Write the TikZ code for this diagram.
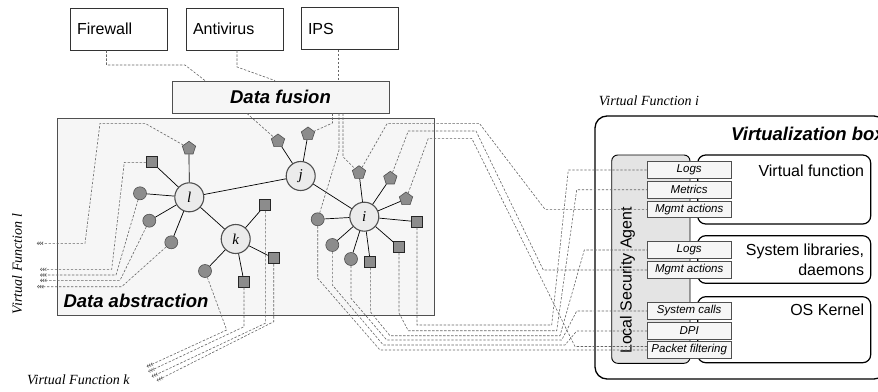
\documentclass[tikz,border=0pt]{standalone}
\usepackage{fontspec}
\setmainfont{Liberation Serif}
\setsansfont{Liberation Sans}
\usepackage{xcolor}
\usetikzlibrary{shapes.geometric,arrows.meta}
\definecolor{leafcolor}{HTML}{8C8C8C}
\definecolor{hubcolor}{HTML}{EBEBEB}
\definecolor{edgecolor}{HTML}{505050}
\definecolor{linkcolor}{HTML}{666666}
\definecolor{panelcolor}{HTML}{F6F6F6}
\definecolor{agentcolor}{HTML}{E4E4E4}
\tikzstyle{srcbox} = [
    draw=black!80,
    fill=white,
    line width=0.8pt,
    minimum width=97pt,
    minimum height=42pt,
    text width=83pt,
    align=left,
    inner xsep=7pt,
    font=\sffamily\fontsize{16}{18}\selectfont
    ]
\tikzstyle{panel} = [
    draw=edgecolor,
    fill=panelcolor,
    line width=0.9pt,
    inner sep=0pt
    ]
\tikzstyle{bigtitle} = [font=\sffamily\bfseries\itshape\fontsize{18.5}{21}\selectfont]
\tikzstyle{hub} = [
    circle,
    draw=edgecolor,
    fill=hubcolor,
    line width=1.1pt,
    minimum size=29pt,
    inner sep=0pt,
    font=\itshape\fontsize{15}{15}\selectfont
    ]
\tikzstyle{leafc} = [circle, draw=edgecolor, fill=leafcolor, line width=0.6pt, minimum size=13pt, inner sep=0pt]
\tikzstyle{leafs} = [rectangle, draw=black!85, fill=leafcolor, line width=0.8pt, minimum size=11pt, inner sep=0pt]
\tikzstyle{leafp} = [regular polygon, regular polygon sides=5, draw=edgecolor, fill=leafcolor, line width=0.6pt, minimum size=14pt, inner sep=0pt]
\tikzstyle{link} = [line width=0.7pt, black]
\tikzstyle{flow} = [draw=linkcolor, line width=0.6pt, dash pattern=on 2.4pt off 1.6pt]
\tikzstyle{outflow} = [flow, -{Straight Barb[length=1.5pt,width=3pt]Straight Barb[length=1.5pt,width=3pt]Straight Barb[length=1.5pt,width=3pt]}]
\tikzstyle{layerbox} = [draw=black, line width=1.2pt, rounded corners=8pt, fill=white, minimum width=173pt, inner sep=0pt]
\tikzstyle{layertext} = [font=\sffamily\fontsize{16}{19.3}\selectfont, inner sep=0pt]
\tikzstyle{agent} = [draw=black, fill=agentcolor, line width=0.9pt, rounded corners=6pt, inner sep=0pt]
\tikzstyle{tagbox} = [
    draw=edgecolor,
    fill=panelcolor,
    line width=0.7pt,
    minimum width=84pt,
    minimum height=16.5pt,
    inner sep=0pt,
    font=\sffamily\itshape\fontsize{11.5}{13}\selectfont
    ]
\tikzstyle{vflabel} = [font=\itshape\fontsize{14}{16}\selectfont, inner sep=0pt]

\begin{document}
\begin{tikzpicture}[x=1pt,y=-1pt]
\useasboundingbox (0,0) rectangle (878,391);

% sources and fusion
\node[srcbox] (fw) at (118.5,29) {Firewall};
\node[srcbox] (av) at (234.5,29) {Antivirus};
\node[srcbox] (ips) at (349.5,28.5) {IPS};
\node[panel, bigtitle, minimum width=217pt, minimum height=32pt] (fus) at (280.5,97) {Data fusion};
\node[panel, minimum width=377pt, minimum height=197.5pt] (abs) at (245.5,216.75) {};
\node[bigtitle, anchor=base west] at (60,307) {Data abstraction};

% graph
\node[hub] (l) at (189.3,197.3) {l};
\node[hub] (j) at (300.7,176) {j};
\node[hub] (k) at (235.7,239) {k};
\node[hub] (i) at (364.3,216.7) {i};
\node[leafp] (lP) at (189,148.3) {};
\node[leafs] (lS) at (152,162.3) {};
\node[leafc] (lC1) at (140,193.3) {};
\node[leafc] (lC2) at (149.3,220.7) {};
\node[leafc] (lC3) at (171.3,242.3) {};
\node[leafs] (kS1) at (265.3,205) {};
\node[leafs] (kS2) at (273.7,258.3) {};
\node[leafs] (kS3) at (244,281.7) {};
\node[leafc] (kC) at (205,271) {};
\node[leafp] (jP1) at (278,141) {};
\node[leafp] (jP2) at (308,134) {};
\node[leafp] (iP1) at (359,172.7) {};
\node[leafp] (iP2) at (390.3,178.3) {};
\node[leafp] (iP3) at (406,199) {};
\node[leafs] (iS1) at (417,221.7) {};
\node[leafs] (iS2) at (399,247) {};
\node[leafs] (iS3) at (370.3,262) {};
\node[leafc] (iC1) at (351,259) {};
\node[leafc] (iC2) at (332.3,245) {};
\node[leafc] (iC3) at (317.7,219.3) {};
\foreach \hub/\leaf in {l/lP,l/lS,l/lC1,l/lC2,l/lC3,k/kS1,k/kS2,k/kS3,k/kC,j/jP1,j/jP2,
    i/iP1,i/iP2,i/iP3,i/iS1,i/iS2,i/iS3,i/iC1,i/iC2,i/iC3}
  \draw[link] (\hub) -- (\leaf);
\draw[link] (l) -- (j) (l) -- (k) (j) -- (i);

% virtualization box
\node[draw, line width=1.3pt, rounded corners=12pt, minimum width=291pt, minimum height=263pt, inner sep=0pt] (vbox) at (740.5,247.5) {};
\node[bigtitle, anchor=base west] at (727.7,140) {Virtualization box};
\node[agent, minimum width=78.3pt, minimum height=208.3pt] (lsa) at (650.85,259.15) {};
\node[layertext, rotate=90] at (627.5,280.5) {Local Security Agent};
\node[layerbox, minimum height=69pt] (vf) at (784.2,189.5) {};
\node[layerbox, minimum height=47.6pt] (sl) at (784.2,259.5) {};
\node[layerbox, minimum height=66pt] (os) at (784.2,329.7) {};
\node[layertext, anchor=base east] at (864.3,176.7) {Virtual function};
\node[layertext, anchor=north east, align=right] at (864.3,244.2) {System libraries,\\daemons};
\node[layertext, anchor=base east] at (864.3,315) {OS Kernel};
\node[tagbox] (lg1) at (689.2,170) {Logs};
\node[tagbox] (mt) at (689.2,189.7) {Metrics};
\node[tagbox] (mg1) at (689.2,209.3) {Mgmt actions};
\node[tagbox] (lg2) at (689.2,250) {Logs};
\node[tagbox] (mg2) at (689.2,270) {Mgmt actions};
\node[tagbox] (sc) at (689.2,311) {System calls};
\node[tagbox] (dpi) at (689.2,331) {DPI};
\node[tagbox] (pf) at (689.2,350) {Packet filtering};

\node[vflabel, anchor=base] at (649,105) {Virtual Function i};
\node[vflabel, anchor=base] at (78.3,384.5) {Virtual Function k};
\node[vflabel, rotate=90] at (17,264) {Virtual Function l};

% data flows
\draw[flow] ([xshift=-12pt]fw.south) -- (106.5,65) -- (185,65) -- ([xshift=-75.5pt]fus.north);
\draw[flow] ([xshift=2.5pt]av.south) -- (237,67) -- ([xshift=-5.5pt]fus.north);
\draw[flow] ([xshift=-11.5pt]ips.south) -- ([xshift=57.5pt]fus.north);
\draw[flow] ([xshift=-33.5pt]fus.south) -- (jP1);
\draw[flow] ([xshift=52pt]fus.south) -- (332.5,123) -- (jP2);
\draw[flow] ([xshift=58.5pt]fus.south) -- (339,150) -- (iC3);
\draw[flow] ([xshift=62.5pt]fus.south) -- (343,156.7) -- (iP1);

\draw[flow] (iP1) -- (387.3,123.3) -- (479.3,123.3) -- (545,209.3) -- (mg1.west);
\draw[flow] (iP2) -- (408.3,131) -- (476,131) -- (543.3,270) -- (mg2.west);
\draw[flow] (iP3) -- (428.3,138.3) -- (471.7,138.3) -- (575,346.5) -- ([yshift=3.5pt]pf.west);
\draw[flow] (iS1) -- (417,325) -- (551.7,325) -- (568.3,170) -- (lg1.west);
\draw[flow] (iS2) -- (399,313) -- (408.3,330.7) -- (556.7,330.7) -- (576.7,189.7) -- (mt.west);
\draw[flow] (iS3) -- (370.3,311.7) -- (390,335.7) -- (560,335.7) -- (584.3,250) -- (lg2.west);
\draw[flow] (iC1) -- (351,298.3) -- (386.7,340) -- (561.7,340) -- (576.7,311) -- (sc.west);
\draw[flow] (iC2) -- (332.3,285) -- (383.3,345) -- (565,345) -- (576.7,331) -- (dpi.west);
\draw[flow] (iC3) -- (317.7,278.3) -- (380,350) -- (pf.west);

\coordinate (vl1) at (36.7,243.3);
\coordinate (vl2) at (40,269.3);
\coordinate (vl3) at (40,275);
\coordinate (vl4) at (40,280.3);
\coordinate (vl5) at (37,286.7);
\draw[outflow] (lP) -- (145,123.3) -- (100,123.3) -- (85,243.3) -- (vl1);
\draw[outflow] (lS) -- (124.3,162.3) -- (111.7,269.3) -- (vl2);
\draw[outflow] (lC1) -- (116,275) -- (vl3);
\draw[outflow] (lC2) -- (120,280.3) -- (vl4);
\draw[outflow] (lC3) -- (121.7,286.7) -- (vl5);

\coordinate (vk1) at (146.7,366.7);
\coordinate (vk2) at (148.3,371.7);
\coordinate (vk3) at (151.7,376.7);
\coordinate (vk4) at (156.7,380.7);
\draw[outflow] (kC) -- (226.7,330) -- (vk1);
\draw[outflow] (kS3) -- (244,326.7) -- (vk2);
\draw[outflow] (kS1) -- (265.3,323.3) -- (vk3);
\draw[outflow] (kS2) -- (273.7,321.7) -- (vk4);
\end{tikzpicture}
\end{document}
